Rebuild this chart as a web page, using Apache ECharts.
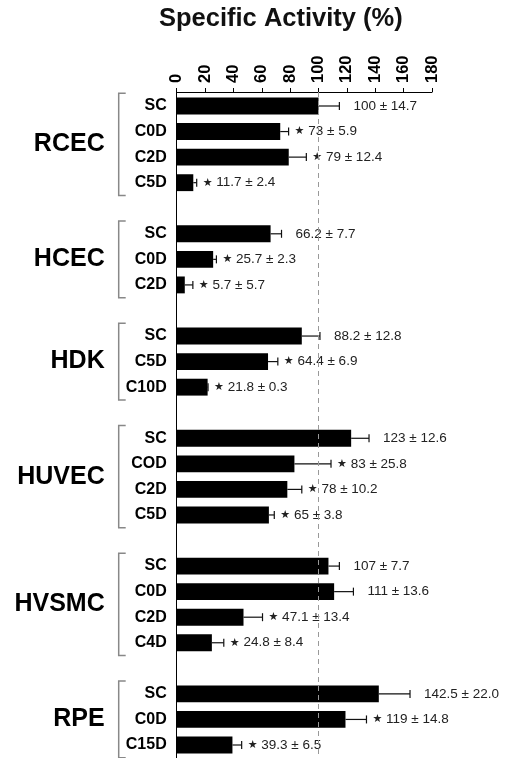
<!DOCTYPE html>
<html><head><meta charset="utf-8">
<script src="https://cdn.jsdelivr.net/npm/echarts@6/dist/echarts.min.js"></script>
<style>html,body{margin:0;padding:0;background:#fff}#c{width:511px;height:758px}</style>
</head><body><div id="c"></div>
<script>
const groups = ['RCEC','HCEC','HDK','HUVEC','HVSMC','RPE'];
const conditions = [
  ['SC','C0D','C2D','C5D'],
  ['SC','C0D','C2D'],
  ['SC','C5D','C10D'],
  ['SC','COD','C2D','C5D'],
  ['SC','C0D','C2D','C4D'],
  ['SC','C0D','C15D']
];
const means = [[100,73,79,11.7],[66.2,25.7,5.7],[88.2,64.4,21.8],[123,83,78,65],[107,111,47.1,24.8],[142.5,119,39.3]];
const errors = [[14.7,5.9,12.4,2.4],[7.7,2.3,5.7],[12.8,6.9,0.3],[12.6,25.8,10.2,3.8],[7.7,13.6,13.4,8.4],[22.0,14.8,6.5]];
const significant = [[0,1,1,1],[0,1,1],[0,1,1],[0,1,1,1],[0,0,1,1],[0,1,1]];
const xMin = 0, xMax = 180, xInterval = 20;
const refLine = 100;

const rows = [];
const spans = [];
let r = 0;
groups.forEach((g, gi) => {
  const start = r;
  conditions[gi].forEach((c, ci) => {
    rows.push([r, means[gi][ci], errors[gi][ci], significant[gi][ci]]);
    r++;
  });
  spans.push([gi, start, r - 1]);
  r++;
});
const rowNames = [];
conditions.forEach(cs => cs.forEach(c => rowNames.push(c)));
const rowTexts = [];
groups.forEach((g, gi) => means[gi].forEach((m, ci) => rowTexts.push(String(m) + ' \u00b1 ' + errors[gi][ci].toFixed(1))));

const FONT = '"Liberation Sans", Arial, Helvetica, sans-serif';

function renderBar(params, api) {
  const i = params.dataIndex;
  const row = api.value(0), m = api.value(1), e = api.value(2), sig = api.value(3);
  const p0 = api.coord([0, row]);
  const p1 = api.coord([m, row]);
  const p2 = api.coord([m + e, row]);
  const h = api.size([0, 1])[1] * 0.66;
  return {
    type: 'group',
    children: [
      {type: 'rect', shape: {x: p0[0], y: p0[1] - h / 2, width: p1[0] - p0[0], height: h}, style: {fill: '#000'}},
      {type: 'line', shape: {x1: p1[0], y1: p1[1], x2: p2[0], y2: p2[1]}, style: {stroke: '#111', lineWidth: 1.2}},
      {type: 'line', shape: {x1: p2[0], y1: p2[1] - 4, x2: p2[0], y2: p2[1] + 4}, style: {stroke: '#111', lineWidth: 1.2}},
      {type: 'text', x: p2[0] + (sig ? 6 : 14), y: p2[1],
        style: {text: sig ? '{s|\u2605} ' + rowTexts[i] : rowTexts[i], fill: '#222', fontSize: 13.5, fontFamily: FONT,
          verticalAlign: 'middle', align: 'left',
          rich: {s: {fontSize: 11, fontFamily: '"DejaVu Sans"', fill: '#222'}}}},
      {type: 'text', x: p0[0] - 10, y: p0[1],
        style: {text: rowNames[i], fill: '#000', fontSize: 16, fontWeight: 'bold', fontFamily: FONT, align: 'right', verticalAlign: 'middle'}}
    ]
  };
}

function renderGroup(params, api) {
  const gi = api.value(0), s = api.value(1), e = api.value(2);
  const top = api.coord([0, s - 0.5])[1];
  const bot = api.coord([0, e + 0.5])[1];
  const x0 = api.coord([0, s])[0];
  const bx = x0 - 58;
  return {
    type: 'group',
    children: [
      {type: 'polyline', shape: {points: [[bx + 7, top], [bx, top], [bx, bot], [bx + 7, bot]]}, style: {stroke: '#888', lineWidth: 1.5, fill: null}},
      {type: 'text', x: bx - 14, y: (top + bot) / 2,
        style: {text: groups[gi], fill: '#000', fontSize: 25, fontWeight: 'bold', fontFamily: FONT, align: 'right', verticalAlign: 'middle'}}
    ]
  };
}

const chart = echarts.init(document.getElementById('c'), null, {renderer: 'canvas'});
chart.setOption({
  animation: false,
  backgroundColor: '#fff',
  title: {
    text: 'Specific Activity (%)', left: 159, top: 6, padding: 0,
    textStyle: {fontSize: 25.5, fontWeight: 'bold', color: '#111', fontFamily: FONT}
  },
  grid: {left: 176.7, right: 79, top: 92, bottom: 0, containLabel: false},
  xAxis: {
    type: 'value', position: 'top', min: xMin, max: xMax, interval: xInterval,
    axisLine: {show: true, onZero: false, lineStyle: {color: '#000', width: 1}},
    axisTick: {show: true, length: 4, lineStyle: {color: '#000'}},
    splitLine: {show: false},
    axisLabel: {rotate: -90, margin: 9, color: '#000', fontSize: 16.5, fontWeight: 'bold', fontFamily: FONT}
  },
  yAxis: {
    type: 'value', inverse: true, min: -0.5477, max: 25.5086,
    axisLine: {show: true, onZero: false, lineStyle: {color: '#000', width: 1}},
    axisTick: {show: false}, axisLabel: {show: false}, splitLine: {show: false}
  },
  series: [
    {
      type: 'line', data: [], silent: true,
      markLine: {silent: true, symbol: 'none', label: {show: false},
        lineStyle: {type: [5, 4], color: '#999', width: 1}, data: [{xAxis: refLine}]}
    },
    {type: 'custom', renderItem: renderBar, data: rows, clip: false, silent: true},
    {type: 'custom', renderItem: renderGroup, data: spans, clip: false, silent: true}
  ]
});
</script>
</body></html>
